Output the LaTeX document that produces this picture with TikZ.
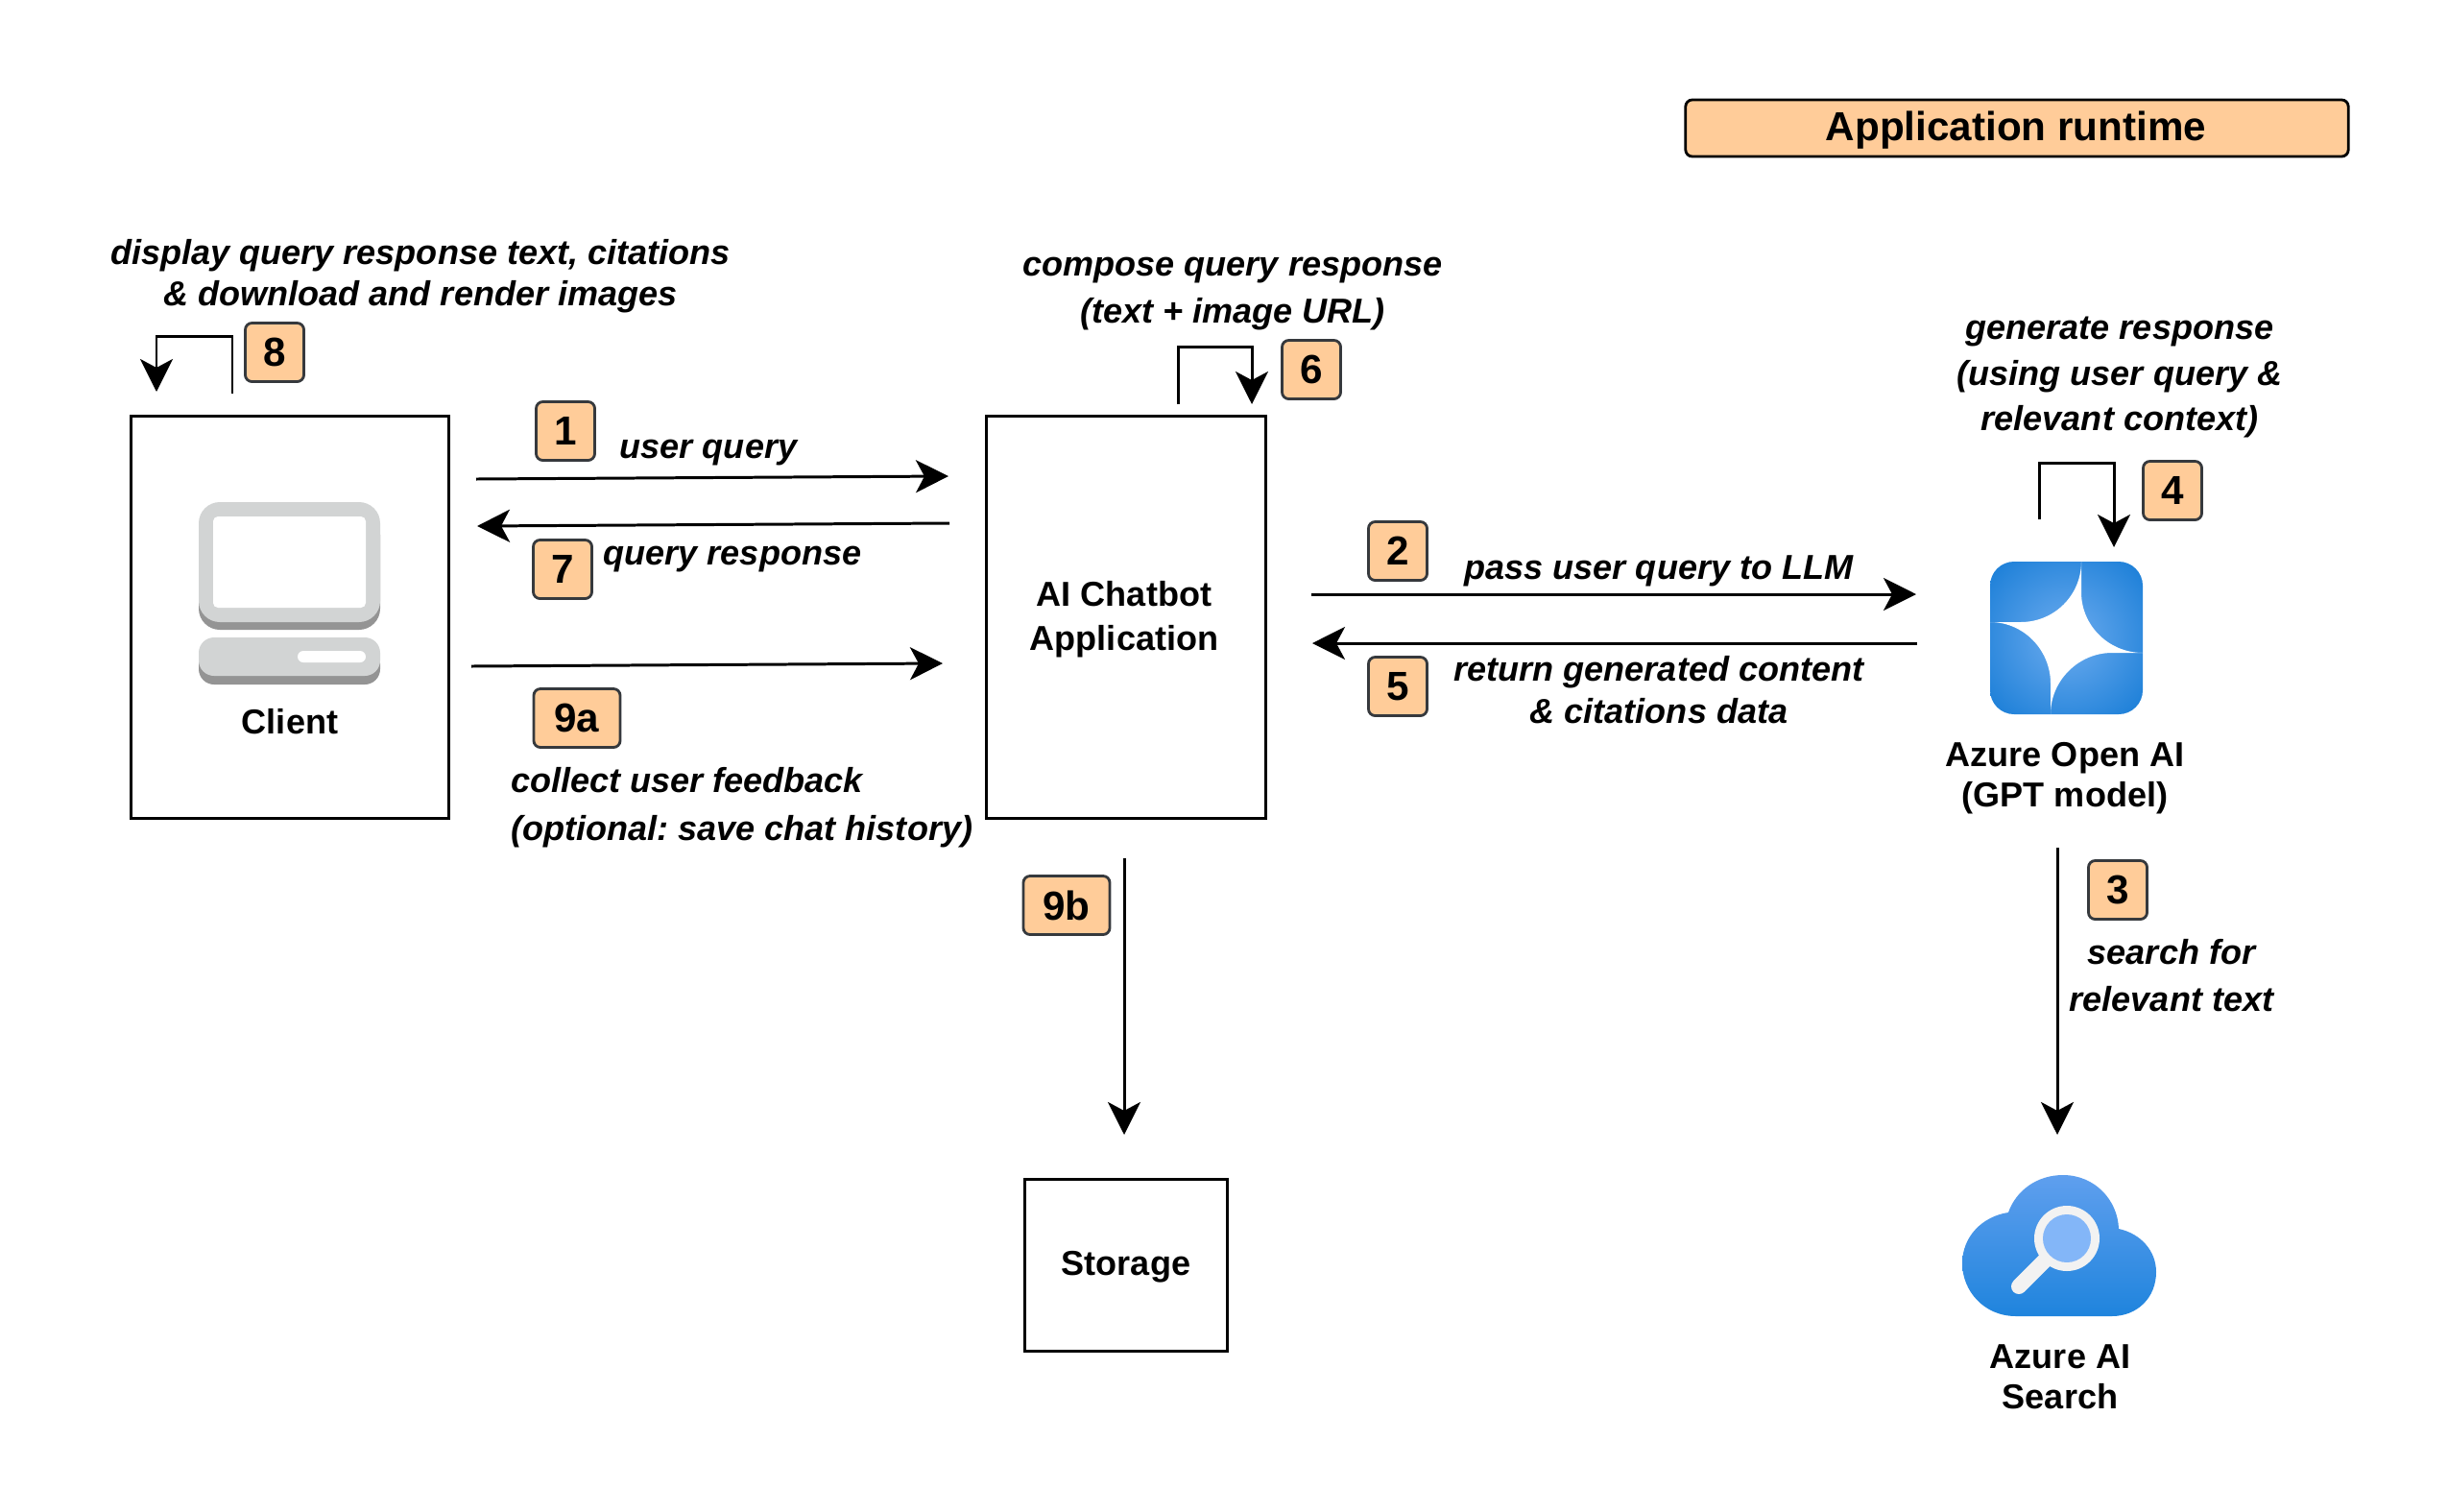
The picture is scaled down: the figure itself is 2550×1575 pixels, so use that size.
\documentclass[tikz,border=0pt]{standalone}
\usepackage{xcolor}
\usepackage{fontspec}
\setmainfont{Liberation Sans}
\frenchspacing
\usetikzlibrary{arrows.meta, positioning}
\definecolor{badge_fill}{HTML}{FFCC99}
\definecolor{badge_line}{HTML}{36393D}
\definecolor{pc_light}{HTML}{D2D4D4}
\definecolor{pc_dark}{HTML}{949494}
\definecolor{star_in}{HTML}{6DACEF}
\definecolor{star_out}{HTML}{0874D2}
\definecolor{cloud_top}{HTML}{5F9FEE}
\definecolor{cloud_low}{HTML}{1F84DD}
\definecolor{lens_fill}{HTML}{83B6F8}
\definecolor{ring_fill}{HTML}{F2F2F2}
\pgfdeclareradialshading{star_glow}{\pgfpointorigin}{color(0bp)=(star_in); color(42bp)=(star_out); color(71bp)=(star_out)}

\begin{document}
\begin{tikzpicture}[
    x=0.01cm, y=-0.01cm,
    font=\bfseries\fontsize{10.25}{12}\selectfont,
    box_node/.style={draw=black, line width=0.85pt, align=center, inner sep=0pt},
    box_label/.style={align=center, font=\bfseries\fontsize{10.25}{12}\selectfont},
    note_label/.style={align=center, font=\bfseries\itshape\fontsize{10.25}{12}\selectfont},
    badge/.style={draw=badge_line, fill=badge_fill, line width=0.8pt, rounded corners=0.07cm, minimum width=0.61cm, minimum height=0.61cm, inner sep=0pt, font=\bfseries\fontsize{12}{14}\selectfont},
    wide_badge/.style={badge, minimum width=0.9cm},
    flow_arrow/.style={line width=0.85pt, -{Stealth[length=0.34cm, width=0.34cm, inset=0.09cm]}},
    self_arrow/.style={flow_arrow}
]
\useasboundingbox (0,0) rectangle (2550,1575);

% BOXES
\node[box_node, minimum width=3.3cm, minimum height=4.18cm] (client) at (302,643) {};
\node[box_node, minimum width=2.9cm, minimum height=4.18cm, box_label] (chatbot) at (1173,643) {};
\node[box_label] (chatbot_label) at (1171,645) {AI Chatbot\\[0.04cm]Application};
\node[box_node, minimum width=2.1cm, minimum height=1.78cm] (storage) at (1173,1318) {};
\node[box_label] (storage_label) at (1173,1320) {Storage};
\node[draw=black, fill=badge_fill, line width=0.8pt, rounded corners=0.07cm, minimum width=6.9cm, minimum height=0.59cm, inner sep=0pt] (runtime) at (2101,133.5) {};
\node[font=\bfseries\fontsize{12}{14}\selectfont] (runtime_label) at (2100,136) {Application runtime};

% CLIENT ICON
\fill[pc_dark, rounded corners=0.22cm] (207,535) rectangle (396,656);
\fill[pc_light, rounded corners=0.22cm] (207,523) rectangle (396,648);
\fill[white, rounded corners=0.05cm] (222,538) rectangle (381,633);
\fill[pc_dark, rounded corners=0.16cm] (207,675) rectangle (396,713);
\fill[pc_light, rounded corners=0.16cm] (207,664) rectangle (396,704);
\fill[white, rounded corners=0.06cm] (310,678) rectangle (381,690);
\node[box_label] (client_label) at (302,752) {Client};

% OPEN AI ICON
\shade[shading=star_glow, rounded corners=0.25cm] (2073,585) rectangle (2232,744);
\fill[white] (2073,648) -- (2105,648) .. controls (2140,648) and (2168,620) .. (2168,585)
    -- (2168,617) .. controls (2168,652) and (2197,680) .. (2232,680)
    -- (2200,680) .. controls (2165,680) and (2136,709) .. (2136,744)
    -- (2136,712) .. controls (2136,677) and (2108,648) .. (2073,648) -- cycle;
\node[box_label] (openai_label) at (2151,811) {Azure Open AI\\(GPT model)};

% SEARCH ICON
\shade[top color=cloud_top, bottom color=cloud_low] (2100,1371) .. controls (2066,1371) and (2044,1344) .. (2044,1316)
    .. controls (2044,1288) and (2065,1267) .. (2092,1263)
    .. controls (2100,1240) and (2122,1224) .. (2149,1224)
    .. controls (2182,1224) and (2206,1250) .. (2207,1280)
    .. controls (2230,1285) and (2246,1303) .. (2246,1325)
    .. controls (2246,1352) and (2226,1371) .. (2200,1371) -- cycle;
\draw[ring_fill, line width=0.16cm, line cap=round] (2103,1340) -- (2132,1311);
\fill[ring_fill] (2153,1290) circle (34);
\fill[lens_fill] (2153,1290) circle (25);
\node[box_label] (search_label) at (2146,1434) {Azure AI\\Search};

% ARROW ENDS
\coordinate (query_from) at (496,499);
\coordinate (query_to) at (988,496);
\coordinate (reply_from) at (989,545);
\coordinate (reply_to) at (497,548);
\coordinate (feedback_from) at (491,694);
\coordinate (feedback_to) at (982,691);
\coordinate (llm_from) at (1366,619);
\coordinate (llm_to) at (1996,619);
\coordinate (content_from) at (1997,670);
\coordinate (content_to) at (1367,670);
\coordinate (search_from) at (2143,883);
\coordinate (search_to) at (2143,1182);
\coordinate (store_from) at (1171,894);
\coordinate (store_to) at (1171,1182);
\coordinate (show_from) at (242,410);
\coordinate (show_to) at (163,408);
\coordinate (compose_from) at (1227,421);
\coordinate (compose_to) at (1304,421);
\coordinate (generate_from) at (2124,541);
\coordinate (generate_to) at (2202,570);

% ARROWS
\draw[flow_arrow] (query_from) -- (query_to);
\draw[flow_arrow] (reply_from) -- (reply_to);
\draw[flow_arrow] (feedback_from) -- (feedback_to);
\draw[flow_arrow] (llm_from) -- (llm_to);
\draw[flow_arrow] (content_from) -- (content_to);
\draw[flow_arrow] (search_from) -- (search_to);
\draw[flow_arrow] (store_from) -- (store_to);
\draw[self_arrow] (show_from) -- ++(0,-60) -| (show_to);
\draw[self_arrow] (compose_from) -- ++(0,-60) -| (compose_to);
\draw[self_arrow] (generate_from) -- ++(0,-59) -| (generate_to);

% BADGES
\node[badge] (step_1) at (589,449) {1};
\node[badge] (step_2) at (1456,574) {2};
\node[badge] (step_3) at (2206,927) {3};
\node[badge] (step_4) at (2263,511) {4};
\node[badge] (step_5) at (1456,715) {5};
\node[badge] (step_6) at (1366,385) {6};
\node[badge] (step_7) at (586,593) {7};
\node[badge] (step_8) at (286,367) {8};
\node[wide_badge] (step_9a) at (601,748) {9a};
\node[wide_badge] (step_9b) at (1111,943) {9b};

% NOTES
\node[note_label] (note_show) at (438,288) {display query response text, citations\\[0.01cm]\& download and render images};
\node[note_label] (note_compose) at (1284,306) {compose query response\\[0.06cm](text + image URL)};
\node[note_label] (note_generate) at (2208,393) {generate response\\[0.06cm](using user query \&\\[0.05cm]relevant context)};
\node[note_label] (note_query) at (738,472) {user query};
\node[note_label] (note_reply) at (763,583) {query response};
\node[note_label, align=left, anchor=west] (note_feedback) at (520,841) {collect user feedback\\[0.08cm](optional: save chat history)};
\node[note_label] (note_llm) at (1728,595) {pass user query to LLM};
\node[note_label] (note_content) at (1728,719) {return generated content\\[0.02cm]\& citations data};
\node[note_label] (note_search) at (2262,1016) {search for\\[0.06cm]relevant text};
\end{tikzpicture}
\end{document}
